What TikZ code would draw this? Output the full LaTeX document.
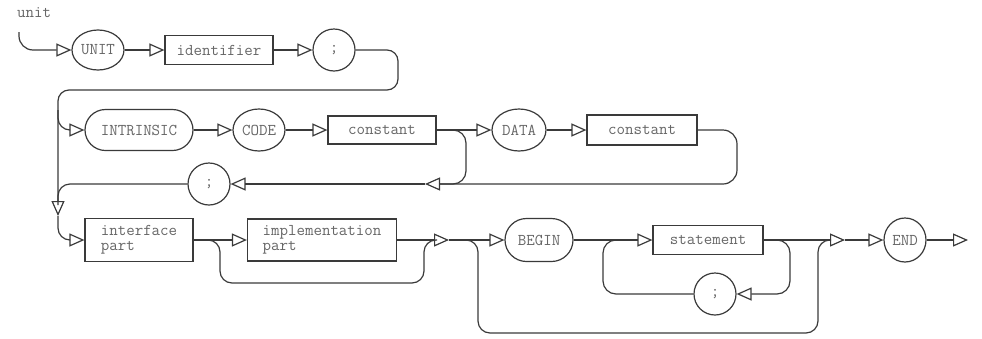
\documentclass[tikz,border=0pt]{standalone}
\usepackage{fontspec}
\usetikzlibrary{arrows.meta,shapes.geometric,shapes.misc}
\definecolor{ink}{HTML}{3A3A3A}
\definecolor{txt}{HTML}{666666}
\begin{document}
\begin{tikzpicture}[x=1pt,y=-1pt,
  conn/.style={line width=1.2pt, draw=ink},
  arr/.style={conn, -{Triangle[open,length=15pt,width=13pt,line width=1.2pt]}},
  lbl/.style={font=\fontsize{16.5}{15}\selectfont\ttfamily, text=txt, inner sep=0pt},
  box/.style={lbl, draw=ink, line width=1.2pt, rectangle, align=left},
  oval/.style={lbl, draw=ink, line width=1.2pt, ellipse},
  pill/.style={lbl, draw=ink, line width=1.2pt, rounded rectangle}]
\useasboundingbox (0,0) rectangle (982,338);

% nodes
\node[lbl, anchor=west] (lab) at (17,13) {unit};
\coordinate (s0) at (19,32);
\node[oval, minimum width=52pt, minimum height=40pt] (un) at (98,50) {UNIT};
\node[box, minimum width=108pt, minimum height=29pt] (id) at (219,50) {identifier};
\node[oval, minimum width=42pt, minimum height=42pt] (sc1) at (334,50) {;};

\node[pill, minimum width=108pt, minimum height=41pt] (intr) at (139,130) {INTRINSIC};
\node[oval, minimum width=52pt, minimum height=42pt] (code) at (259,130) {CODE};
\node[box, minimum width=108pt, minimum height=28pt] (c1) at (382,130) {constant};
\node[oval, minimum width=54pt, minimum height=42pt] (data) at (519,130) {DATA};
\node[box, minimum width=110pt, minimum height=30pt] (c2) at (642,130) {constant};
\node[oval, minimum width=42pt, minimum height=42pt] (sc2) at (209,184) {;};
\coordinate (j1) at (425,184);
\coordinate (dn) at (58,216);

\node[box, minimum width=108pt, minimum height=43pt] (iface) at (139,240) {interface\\part};
\node[box, minimum width=149pt, minimum height=42pt] (impl) at (322,240) {implementation\\part};
\coordinate (j2) at (449,240);
\node[pill, minimum width=68pt, minimum height=43pt] (beg) at (539,240) {BEGIN};
\node[box, minimum width=110pt, minimum height=29pt] (st) at (708,240) {statement};
\coordinate (j3) at (845,240);
\node[oval, minimum width=42pt, minimum height=44pt] (en) at (905,240) {END};
\coordinate (ex) at (968,240);
\node[oval, minimum width=42pt, minimum height=42pt] (sc3) at (715,294) {;};

% row 1
\draw[arr, rounded corners=14pt] (s0) |- (un.west);
\draw[arr] (un.east) -- (id.west);
\draw[arr] (id.east) -- (sc1.west);
\draw[arr, rounded corners=11pt] (sc1.east) -| (398,90) -| (dn);

% row 2
\draw[arr, rounded corners=12pt] (58,110) |- (intr.west);
\draw[arr] (intr.east) -- (code.west);
\draw[arr] (code.east) -- (c1.west);
\draw[arr] (c1.east) -- (data.west);
\draw[arr] (data.east) -- (c2.west);
\draw[arr, rounded corners=14pt] (c2.east) -| (737,184) -- (j1);
\draw[conn, rounded corners=13pt] (446,130) -| (466,184) -- (440,184);
\draw[arr] (j1) -- (sc2.east);
\draw[conn, rounded corners=12pt] (sc2.west) -| (58,205);

% row 3
\draw[arr, rounded corners=12pt] (dn) |- (iface.west);
\draw[arr] (iface.east) -- (impl.west);
\draw[arr] (impl.east) -- (j2);
\draw[conn, rounded corners=12pt] (206,240) -| (220,283) -| (424,240) -- (437,240);
\draw[arr] (j2) -- (beg.west);
\draw[conn, rounded corners=12pt] (463,240) -| (478,333) -| (818,240) -- (831,240);
\draw[arr] (beg.east) -- (st.west);
\draw[arr] (st.east) -- (j3);
\draw[arr] (j3) -- (en.west);
\draw[arr] (en.east) -- (ex);
\draw[arr, rounded corners=13pt] (775,240) -| (790,294) -- (sc3.east);
\draw[conn, rounded corners=13pt] (sc3.west) -| (603,240) -- (617,240);
\end{tikzpicture}
\end{document}
